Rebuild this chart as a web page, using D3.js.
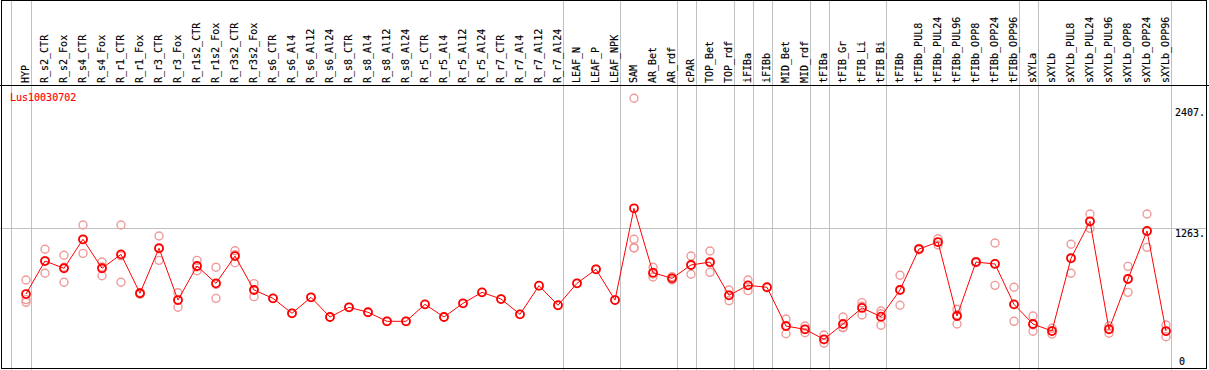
<!DOCTYPE html>
<html>
<head>
<meta charset="utf-8">
<script src="https://cdn.jsdelivr.net/npm/d3@7"></script>
<style>
  html, body { margin: 0; padding: 0; background: #fff; }
  svg { display: block; }
  text { font-family: "DejaVu Sans Mono", "Liberation Mono", monospace; font-size: 10px; stroke-width: 0.15px; }
</style>
</head>
<body>
<svg id="chart" width="1209" height="370"></svg>
<script>
const title = "Lus10030702";
const categories = ["HYP","R_s2_CTR","R_s2_Fox","R_s4_CTR","R_s4_Fox","R_r1_CTR","R_r1_Fox","R_r3_CTR","R_r3_Fox",
  "R_r1s2_CTR","R_r1s2_Fox","R_r3s2_CTR","R_r3s2_Fox","R_s6_CTR","R_s6_Al4","R_s6_Al12","R_s6_Al24",
  "R_s8_CTR","R_s8_Al4","R_s8_Al12","R_s8_Al24","R_r5_CTR","R_r5_Al4","R_r5_Al12","R_r5_Al24",
  "R_r7_CTR","R_r7_Al4","R_r7_Al12","R_r7_Al24","LEAF_N","LEAF_P","LEAF_NPK","SAM","AR_Bet","AR_rdf",
  "cPAR","TOP_Bet","TOP_rdf","iFIBa","iFIBb","MID_Bet","MID_rdf","tFIBa","tFIB_Gr","tFIB_Li","tFIB_Bi",
  "tFIBb","tFIBb_PUL8","tFIBb_PUL24","tFIBb_PUL96","tFIBb_OPP8","tFIBb_OPP24","tFIBb_OPP96",
  "sXYLa","sXYLb","sXYLb_PUL8","sXYLb_PUL24","sXYLb_PUL96","sXYLb_OPP8","sXYLb_OPP24","sXYLb_OPP96"];
const groupSizes = [1, 28, 3, 3, 1, 2, 1, 1, 2, 1, 3, 7, 1, 7];
const means = [676,968,904,1160,904,1027,683,1081,623,924,771,1012,712,638,506,647,473,559,515,435,
  435,585,473,594,691,632,497,750,577,771,895,623,1434,865,815,933,959,665,753,736,
  393,364,276,411,553,476,712,1074,1136,482,959,942,585,411,349,992,1319,364,809,1234,349];
const replicates = [
  [800,603,627],[1072,860,972],[1019,780,913],[1287,1036,1157],[959,838,915],[1287,780,1014],
  [683,690,676],[1189,974,1080],[688,559,622],[974,882,916],[913,638,762],[1059,953,1024],[768,653,715],
  [638],[506],[647],[473],[559],[515],[435],[435],[585],[473],[594],[691],[632],[497],[750],[577],
  [771],[895],[623],
  [2407,1160,1083,1086],[913,827,855],[829,800,816],[1012,851,936],[1057,868,952],[712,617,666],
  [800,706,753],[736],[455,325,399],[393,334,365],[314,241,273],[473,378,382],[600,491,568],
  [526,400,502],[842,577,717],[1080,1068,1074],[1165,1110,1133],[541,411,494],[965,955,957],
  [1127,753,946],[736,435,584],[482,347,404],[373,323,351],[1116,860,1000],[1384,1257,1316],
  [393,329,370],[921,691,815],[1384,1089,1229],[402,299,346]];
const tickValues = [0, 1263, 2407];
const tickLabels = ["0", "1263.", "2407."];

const svg = d3.select("#chart");
const W = 1209, H = 370;
const x = d3.scaleBand().domain(categories).range([11.5, 1170.5]);
const px = c => x(c) + x.bandwidth() * 0.763;
const y = d3.scaleLinear().domain([0, d3.max(replicates.flat())]).range([370.5, 98.3]);

const grid = "#c0c0c0";
// vertical group separators
const bounds = [x(categories[0]) - 0.5];
let acc = 0;
groupSizes.forEach(s => { acc += s; const c = categories[acc - 1]; bounds.push(x(c) + x.bandwidth()); });
svg.selectAll("line.vsep").data(bounds).join("line")
  .attr("class", "vsep")
  .attr("x1", d => Math.round(d) + 0.5).attr("x2", d => Math.round(d) + 0.5)
  .attr("y1", 0).attr("y2", H)
  .attr("stroke", grid).attr("stroke-width", 1);

// horizontal mid line
svg.append("line")
  .attr("x1", 0).attr("x2", 1207)
  .attr("y1", Math.round(y(tickValues[1])) + 0.5).attr("y2", Math.round(y(tickValues[1])) + 0.5)
  .attr("stroke", grid).attr("stroke-width", 1);

// frame
svg.append("rect").attr("x", 1.5).attr("y", 0.5).attr("width", 1205).attr("height", 368)
  .attr("fill", "none").attr("stroke", "#000").attr("stroke-width", 1);
svg.append("line").attr("x1", 0).attr("x2", W).attr("y1", 85.5).attr("y2", 85.5)
  .attr("stroke", "#000").attr("stroke-width", 1);

// column labels
svg.selectAll("text.col").data(categories).join("text")
  .attr("class", "col")
  .attr("transform", d => `translate(${Math.round(px(d)) + 3},83) rotate(-90)`)
  .attr("text-anchor", "start")
  .attr("fill", "#000").attr("stroke", "#000")
  .text(d => d);

// right value labels
const labelOffsets = [-5.5, 9.5, 17.7];
const labelX = [1179, 1175, 1175];
svg.selectAll("text.yl").data(tickValues).join("text")
  .attr("class", "yl")
  .attr("x", (d, i) => labelX[i])
  .attr("y", (d, i) => y(d) + labelOffsets[i])
  .attr("fill", "#000").attr("stroke", "#000")
  .text((d, i) => tickLabels[i]);

// title
svg.append("text").attr("x", 10).attr("y", 101).attr("fill", "#ff0000").attr("stroke", "#ff0000").text(title);

// replicate circles
const repPts = [];
replicates.forEach((arr, i) => arr.forEach(v => repPts.push({c: categories[i], v})));
svg.selectAll("circle.rep").data(repPts).join("circle")
  .attr("class", "rep")
  .attr("cx", d => px(d.c)).attr("cy", d => y(d.v)).attr("r", 4)
  .attr("fill", "none").attr("stroke", "#ef9a9a").attr("stroke-width", 1.4);

// mean line
const line = d3.line().x((d, i) => px(categories[i])).y(d => y(d));
svg.append("path").datum(means).attr("d", line)
  .attr("fill", "none").attr("stroke", "#ff0000").attr("stroke-width", 1);

// mean circles
svg.selectAll("circle.mean").data(means).join("circle")
  .attr("class", "mean")
  .attr("cx", (d, i) => px(categories[i])).attr("cy", d => y(d)).attr("r", 4)
  .attr("fill", "none").attr("stroke", "#ff0000").attr("stroke-width", 1.8);
</script>
</body>
</html>
